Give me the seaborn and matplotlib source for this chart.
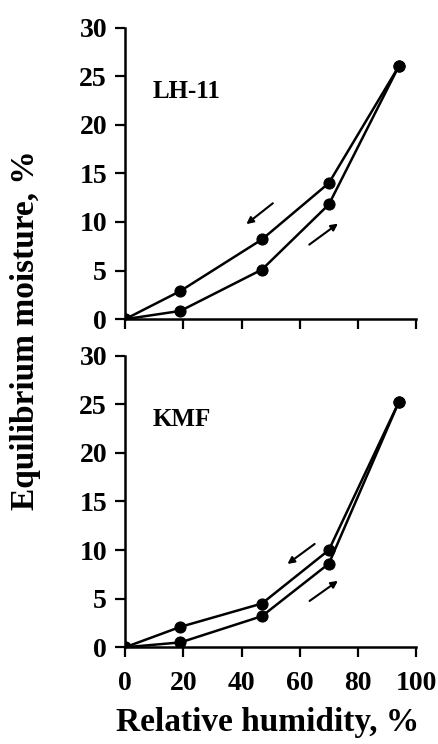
import pandas as pd
import matplotlib.pyplot as plt
import seaborn as sns

# Sorption isotherm data
humidity = [0, 19, 47, 70, 94]

lh11_adsorption = [0, 0.85, 5.1, 11.8, 26.0]
lh11_desorption = [0, 2.9, 8.2, 14.0, 26.0]

kmf_adsorption = [0, 0.5, 3.2, 8.6, 25.2]
kmf_desorption = [0, 2.1, 4.5, 10.0, 25.2]

x_ticks = [0, 20, 40, 60, 80, 100]
y_ticks = [0, 5, 10, 15, 20, 25, 30]

sns.set_style("ticks")
plt.rcParams["font.family"] = ["Liberation Serif", "DejaVu Serif"]
plt.rcParams["font.weight"] = "bold"
plt.rcParams["text.color"] = "black"
plt.rcParams["xtick.color"] = "black"
plt.rcParams["ytick.color"] = "black"

fig = plt.figure(figsize=(4.39, 7.44), dpi=100)
ax_top = fig.add_axes([0.285, 0.571, 0.663, 0.392])
ax_bot = fig.add_axes([0.285, 0.130, 0.663, 0.392])


def draw_panel(ax, name, ads, des, arrows):
    df = pd.DataFrame({
        "humidity": humidity * 2,
        "moisture": ads + des,
        "branch": ["adsorption"] * len(humidity) + ["desorption"] * len(humidity),
    })
    sns.lineplot(data=df, x="humidity", y="moisture", units="branch", estimator=None,
                 color="black", linewidth=1.8, marker="o", markersize=8,
                 markeredgecolor="black", ax=ax)
    ax.set_xlim(0, 100)
    ax.set_ylim(0, 30)
    ax.set_xticks(x_ticks)
    ax.set_yticks(y_ticks)
    ax.set_xlabel("")
    ax.set_ylabel("")
    ax.tick_params(axis="both", direction="out", length=7, width=1.6,
                   labelsize=20, colors="black")
    ax.tick_params(axis="y", pad=6)
    for side in ["left", "bottom"]:
        ax.spines[side].set_linewidth(1.8)
        ax.spines[side].set_color("black")
    sns.despine(ax=ax)
    ax.text(9.3, 23.4, name, fontsize=18, fontweight="bold", color="black",
            ha="left", va="center")
    for start, end in arrows:
        ax.annotate("", xy=end, xytext=start,
                    arrowprops=dict(arrowstyle="-|>", color="black", lw=1.5,
                                    mutation_scale=10))
    for lbl in ax.get_xticklabels() + ax.get_yticklabels():
        lbl.set_fontweight("bold")


draw_panel(ax_top, "LH-11", lh11_adsorption, lh11_desorption,
           [((51.5, 12.1), (40.9, 9.6)), ((62.5, 7.5), (73.9, 10.0))])
draw_panel(ax_bot, "KMF", kmf_adsorption, kmf_desorption,
           [((65.9, 10.8), (55.0, 8.4)), ((62.6, 4.6), (73.9, 7.0))])

ax_top.set_xticklabels([])
ax_bot.tick_params(axis="x", pad=10)

fig.text(0.61, 0.029, "Relative humidity, %", fontsize=24, fontweight="bold",
         color="black", ha="center", va="center")
fig.text(0.057, 0.556, "Equilibrium moisture, %", fontsize=24, fontweight="bold",
         color="black", rotation=90, ha="center", va="center")

fig.savefig("out.png", dpi=100)
